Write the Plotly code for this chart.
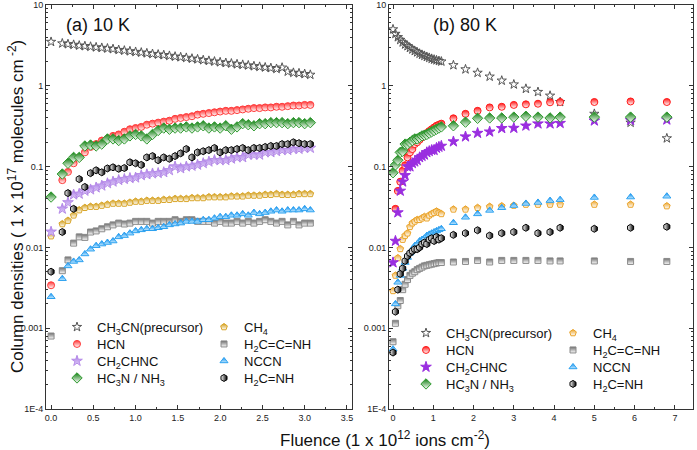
import plotly.graph_objects as go

# ---------------- data : 10 K panel ----------------
x10 = [0, 0.133, 0.2, 0.267, 0.333, 0.4, 0.467, 0.533, 0.6, 0.667, 0.733, 0.8, 0.867, 0.933,
       1.0, 1.067, 1.133, 1.2, 1.267, 1.333, 1.4, 1.467, 1.533, 1.6, 1.667, 1.733, 1.8, 1.867,
       1.933, 2.0, 2.067, 2.133, 2.2, 2.267, 2.333, 2.4, 2.467, 2.533, 2.6, 2.667, 2.733, 2.8,
       2.867, 2.933, 3.0, 3.067]

ch3cn_10 = [3.5, 3.35, 3.28, 3.22, 3.15, 3.1, 3.05, 3.0, 2.95, 2.9, 2.85, 2.78, 2.73, 2.68,
            2.63, 2.58, 2.53, 2.48, 2.44, 2.4, 2.35, 2.3, 2.26, 2.22, 2.17, 2.13, 2.08, 2.04,
            2.0, 1.96, 1.92, 1.89, 1.85, 1.82, 1.79, 1.75, 1.72, 1.69, 1.66, 1.62, 1.68, 1.5,
            1.45, 1.43, 1.4, 1.37]
hcn_10 = [0.0034, 0.068, 0.086, 0.11, 0.13, 0.15, 0.175, 0.19, 0.21, 0.22, 0.24, 0.25, 0.27, 0.29,
          0.30, 0.31, 0.33, 0.34, 0.35, 0.36, 0.37, 0.39, 0.40, 0.41, 0.42, 0.44, 0.45, 0.46,
          0.47, 0.48, 0.49, 0.49, 0.50, 0.51, 0.52, 0.53, 0.53, 0.54, 0.54, 0.55, 0.55, 0.56,
          0.57, 0.57, 0.58, 0.58]
ch2chnc_10 = [0.0156, 0.030, 0.036, 0.045, 0.046, 0.05, 0.052, 0.055, 0.058, 0.062, 0.065, 0.068,
              0.07, 0.072, 0.073, 0.078, 0.08, 0.082, 0.083, 0.085, 0.09, 0.1, 0.095, 0.1, 0.102,
              0.105, 0.11, 0.115, 0.12, 0.12, 0.12, 0.125, 0.13, 0.13, 0.14, 0.14, 0.14, 0.15,
              0.15, 0.155, 0.16, 0.16, 0.165, 0.165, 0.17, 0.17]
hc3n_10 = [0.042, 0.081, 0.11, 0.13, 0.13, 0.18, 0.185, 0.18, 0.19, 0.22, 0.22, 0.21, 0.22, 0.24,
           0.25, 0.24, 0.22, 0.25, 0.28, 0.30, 0.29, 0.30, 0.30, 0.31, 0.30, 0.31, 0.32, 0.30,
           0.31, 0.30, 0.32, 0.29, 0.31, 0.34, 0.33, 0.32, 0.34, 0.34, 0.35, 0.35, 0.35, 0.34,
           0.35, 0.35, 0.34, 0.35]
ch4_10 = [0.0138, 0.0195, 0.0215, 0.025, 0.029, 0.031, 0.032, 0.032, 0.033, 0.034, 0.035, 0.035,
          0.035, 0.036, 0.037, 0.037, 0.038, 0.038, 0.038, 0.039, 0.039, 0.04, 0.04, 0.04, 0.041,
          0.041, 0.041, 0.042, 0.042, 0.042, 0.042, 0.043, 0.043, 0.043, 0.044, 0.044, 0.044,
          0.045, 0.045, 0.046, 0.045, 0.045, 0.045, 0.046, 0.046, 0.046]
h2ccnh_10 = [0.0008, 0.00515, 0.007, 0.0113, 0.0135, 0.0133, 0.0155, 0.016, 0.017, 0.018, 0.019,
             0.02, 0.0195, 0.02, 0.021, 0.021, 0.021, 0.02, 0.021, 0.021, 0.021, 0.022, 0.021,
             0.022, 0.022, 0.021, 0.021, 0.021, 0.02, 0.021, 0.02, 0.02, 0.021, 0.02, 0.021,
             0.02, 0.021, 0.022, 0.021, 0.02, 0.021, 0.019, 0.021, 0.019, 0.02, 0.02]
nccn_10 = [0.00245, 0.0041, 0.0059, 0.0067, 0.007, 0.0083, 0.0095, 0.0105, 0.011, 0.0115, 0.012,
           0.0135, 0.014, 0.015, 0.016, 0.0165, 0.017, 0.017, 0.0175, 0.018, 0.019, 0.0195, 0.02,
           0.021, 0.021, 0.021, 0.022, 0.022, 0.023, 0.024, 0.024, 0.025, 0.025, 0.026, 0.025,
           0.027, 0.026, 0.027, 0.028, 0.029, 0.028, 0.029, 0.029, 0.029, 0.03, 0.029]
h2cnh_10 = [0.005, 0.0155, 0.047, 0.030, 0.07, 0.056, 0.083, 0.09, 0.085, 0.095, 0.098, 0.094,
            0.096, 0.113, 0.11, 0.105, 0.13, 0.135, 0.12, 0.13, 0.125, 0.135, 0.146, 0.165, 0.13,
            0.15, 0.155, 0.16, 0.17, 0.15, 0.16, 0.16, 0.165, 0.17, 0.16, 0.17, 0.17, 0.175,
            0.18, 0.18, 0.19, 0.19, 0.2, 0.195, 0.19, 0.19]

# ---------------- data : 80 K panel ----------------
x80 = [0, 0.06, 0.12, 0.18, 0.24, 0.3, 0.36, 0.42, 0.48, 0.54, 0.6, 0.66, 0.72, 0.78, 0.84,
       0.9, 0.96, 1.02, 1.08, 1.14, 1.2,
       1.5, 1.8, 2.1, 2.4, 2.7, 3.0, 3.3, 3.6, 3.9, 4.15, 5.0, 5.9, 6.8]

ch3cn_80 = [5.0, 4.4, 4.0, 3.7, 3.45, 3.25, 3.1, 2.95, 2.82, 2.7, 2.6, 2.5, 2.42, 2.35, 2.28,
            2.22, 2.16, 2.11, 2.07, 2.03, 2.0,
            1.8, 1.6, 1.45, 1.3, 1.16, 1.04, 0.92, 0.84, 0.755, 0.63, 0.45, 0.35, 0.224]
hcn_80 = [None, 0.03, 0.05, 0.065, 0.089, 0.104, 0.13, 0.15, 0.165, 0.19, 0.2, 0.215, 0.23,
          0.245, 0.26, 0.275, 0.29, 0.305, 0.32, 0.33, 0.34,
          0.396, 0.45, 0.49, 0.54, 0.55, 0.58, 0.59, 0.6, 0.625, 0.63, 0.63, 0.64, 0.63]
ch2chnc_80 = [0.0065, 0.012, 0.027, 0.05, 0.065, 0.078, 0.1, 0.1, 0.11, 0.115, 0.12, 0.13, 0.135,
              0.14, 0.15, 0.155, 0.16, 0.16, 0.17, 0.175, 0.18,
              0.204, 0.235, 0.26, 0.27, 0.298, 0.3, 0.32, 0.34, 0.34, 0.345, 0.37, 0.375, 0.38]
hc3n_80 = [0.084, 0.105, 0.12, 0.15, 0.155, 0.19, 0.19, 0.2, 0.21, 0.22, 0.22, 0.23, 0.24, 0.245,
           0.25, 0.26, 0.27, 0.28, 0.29, 0.3, 0.31,
           0.32, 0.355, 0.396, 0.4, 0.4, 0.41, 0.42, 0.41, 0.4, 0.41, 0.41, 0.41, 0.41]
ch4_80 = [0.0029, 0.0045, 0.0074, 0.0096, 0.0125, 0.014, 0.015, 0.018, 0.02, 0.021, 0.022, 0.022,
          0.023, 0.024, 0.023, 0.025, 0.026, 0.027, 0.028, 0.027, 0.026,
          0.0296, 0.0296, 0.031, 0.032, 0.0325, 0.033, 0.034, 0.034, 0.034, 0.034, 0.034, 0.034,
          0.0325]
h2ccnh_80 = [0.00068, 0.00115, 0.0019, 0.0022, 0.003, 0.0035, 0.004, 0.0045, 0.0048, 0.005,
             0.0053, 0.0055, 0.0057, 0.0059, 0.006, 0.0061, 0.0062, 0.0063, 0.0064, 0.0065, 0.0065,
             0.0066, 0.0067, 0.0069, 0.0066, 0.0069, 0.0069, 0.0069, 0.0069, 0.0068, 0.0068,
             0.0068, 0.0067, 0.0067]
nccn_80 = [0.00055, 0.002, 0.0037, 0.0045, 0.0055, 0.0065, 0.0075, 0.0085, 0.0095, 0.0105, 0.011,
           0.012, 0.0125, 0.013, 0.014, 0.0145, 0.015, 0.0155, 0.016, 0.0165, 0.017,
           0.0202, 0.0236, 0.026, 0.0287, 0.031, 0.033, 0.035, 0.036, 0.038, 0.039, 0.0415, 0.042,
           0.043]
h2cnh_80 = [0.0005, 0.0016, 0.003, 0.0047, 0.0055, 0.0068, 0.0078, 0.0085, 0.009, 0.0095, 0.0095,
            0.01, 0.011, 0.0115, 0.011, 0.0125, 0.013, 0.012, 0.0135, 0.0125, 0.013,
            0.0143, 0.015, 0.0163, 0.014, 0.015, 0.0155, 0.0175, 0.015, 0.0155, 0.0175, 0.017,
            0.0175, 0.018]

names = ["CH<sub>3</sub>CN(precursor)", "HCN", "CH<sub>2</sub>CHNC", "HC<sub>3</sub>N / NH<sub>3</sub>",
         "CH<sub>4</sub>", "H<sub>2</sub>C=C=NH", "NCCN", "H<sub>2</sub>C=NH"]
ticklabels_y = ["1E-4", "0.001", "0.01", "0.1", "1", "10"]
tickvals_y = [1e-4, 1e-3, 1e-2, 1e-1, 1, 10]

series10 = [ch3cn_10, hcn_10, ch2chnc_10, hc3n_10, ch4_10, h2ccnh_10, nccn_10, h2cnh_10]
series80 = [ch3cn_80, hcn_80, ch2chnc_80, hc3n_80, ch4_80, h2ccnh_80, nccn_80, h2cnh_80]

# marker styles: (symbol, fill, line, gradient type, gradient colour, size)
style10 = [
    ("star-open", "#555555", "#555555", None, None, 7),
    ("circle", "#ff3a3a", "#ff3a3a", "vertical", "#ffffff", 7),
    ("star", "#a878e8", "#b58ae8", "vertical", "#e2d2f7", 8),
    ("diamond", "#0d7d0d", "#2e9a2e", "vertical", "#ffffff", 8),
    ("pentagon", "#d19a10", "#d9a62a", "vertical", "#ffffff", 7),
    ("square", "#707070", "#8a8a8a", "vertical", "#ffffff", 6),
    ("triangle-up", "#0a8cf0", "#2aa0f0", "vertical", "#c8ecff", 7),
    ("hexagon", "#000000", "#000000", "horizontal", "#ffffff", 7),
]
style80 = [
    ("star-open", "#555555", "#555555", None, None, 7),
    ("circle", "#ff1a1a", "#ff1a1a", "vertical", "#ffffff", 7),
    ("star", "#9a2ee0", "#9a2ee0", None, None, 8),
    ("diamond", "#0d7d0d", "#2e9a2e", "vertical", "#ffffff", 8),
    ("pentagon", "#eba42a", "#eba42a", "vertical", "#ffffff", 7),
    ("square", "#707070", "#8a8a8a", "vertical", "#ffffff", 6),
    ("triangle-up", "#0a8cf0", "#2aa0f0", "vertical", "#c8ecff", 7),
    ("hexagon", "#000000", "#000000", "horizontal", "#ffffff", 7),
]

fig = go.Figure()

def add_series(xs, ys, st, name, xaxis, yaxis, legend):
    sym, fill, line, gt, gc, sz = st
    marker = dict(symbol=sym, color=fill, size=sz, line=dict(color=line, width=1))
    if gt:
        if gt == "horizontal":
            marker["color"] = gc
            marker["gradient"] = dict(type=gt, color=fill)
        else:
            marker["gradient"] = dict(type=gt, color=gc)
    fig.add_trace(go.Scatter(x=xs, y=ys, mode="markers", name=name, marker=marker,
                             xaxis=xaxis, yaxis=yaxis, legend=legend, cliponaxis=True))

# one horizontal legend per legend row (two columns each)
def legend_id(n):
    return "legend" if n == 1 else "legend%d" % n

order = [0, 4, 1, 5, 2, 6, 3, 7]
for i in order:
    add_series(x10, series10[i], style10[i], names[i], "x", "y", legend_id(1 + i % 4))
for i in order:
    add_series(x80, series80[i], style80[i], names[i], "x2", "y2", legend_id(5 + i % 4))

W, H = 697, 450
px = lambda v: v / W
py = lambda v: 1 - v / H

minor_y = []
for e in range(-4, 1):
    for m in range(2, 10):
        minor_y.append(m * 10 ** e)

FONT = "Arial, Liberation Sans"
axis_common = dict(showline=True, linecolor="#333333", linewidth=1, mirror="allticks",
                   ticks="inside", ticklen=4, tickcolor="#333333", showgrid=False, zeroline=False,
                   tickfont=dict(family=FONT, size=9, color="#222222"))
yaxis_common = dict(axis_common, type="log", range=[-4, 1], tickmode="array",
                    tickvals=tickvals_y, ticktext=ticklabels_y,
                    minor=dict(ticks="inside", ticklen=2, tickcolor="#333333",
                               tickmode="array", tickvals=minor_y))

leg_font = dict(family=FONT, size=13, color="#111111")
leg_common = dict(bgcolor="rgba(0,0,0,0)", font=leg_font, orientation="h",
                  xref="container", yref="container",
                  xanchor="left", yanchor="middle", itemwidth=30,
                  entrywidth=102, entrywidthmode="pixels")

legend_rows_left = [327, 344, 361, 378]
legend_rows_right = [333, 350, 367, 384]

layout_legends = {}
for r in range(4):
    layout_legends[legend_id(1 + r)] = dict(leg_common, x=px(57), y=py(legend_rows_left[r]))
    layout_legends[legend_id(5 + r)] = dict(leg_common, x=px(406), y=py(legend_rows_right[r]))

fig.update_layout(
    width=W, height=H, margin=dict(l=0, r=0, t=0, b=0, autoexpand=False),
    paper_bgcolor="white", plot_bgcolor="white",
    showlegend=True,
    xaxis=dict(axis_common, domain=[px(46), px(352)], range=[-0.06, 3.56],
               tickvals=[0, 0.5, 1, 1.5, 2, 2.5, 3, 3.5], tickformat=".1f",
               minor=dict(ticks="inside", ticklen=2, tickcolor="#333333", dtick=0.25), anchor="y"),
    yaxis=dict(yaxis_common, domain=[py(409), py(5)], anchor="x"),
    xaxis2=dict(axis_common, domain=[px(389), px(693)], range=[-0.1, 7.45],
                tickvals=[0, 1, 2, 3, 4, 5, 6, 7],
                minor=dict(ticks="inside", ticklen=2, tickcolor="#333333", dtick=0.5), anchor="y2"),
    yaxis2=dict(yaxis_common, domain=[py(409), py(5)], anchor="x2"),
    annotations=[
        dict(text="(a) 10 K", x=px(64), y=py(25), xref="paper", yref="paper", xanchor="left",
             yanchor="middle", showarrow=False, font=dict(family=FONT, size=18, color="#111111")),
        dict(text="(b) 80 K", x=px(431), y=py(25), xref="paper", yref="paper", xanchor="left",
             yanchor="middle", showarrow=False, font=dict(family=FONT, size=18, color="#111111")),
        dict(text="Column densities ( 1 x 10<sup>17</sup> molecules cm<sup> -2</sup>)",
             x=px(16), y=py(207), xref="paper", yref="paper", textangle=-90, showarrow=False,
             xanchor="center", yanchor="middle",
             font=dict(family=FONT, size=17, color="#111111")),
        dict(text="Fluence (1 x 10<sup>12</sup> ions cm<sup>-2</sup>)",
             x=px(385), y=py(439), xref="paper", yref="paper", showarrow=False,
             xanchor="center", yanchor="middle",
             font=dict(family=FONT, size=17, color="#111111")),
    ],
    **layout_legends,
)

fig.write_html("out.html")
